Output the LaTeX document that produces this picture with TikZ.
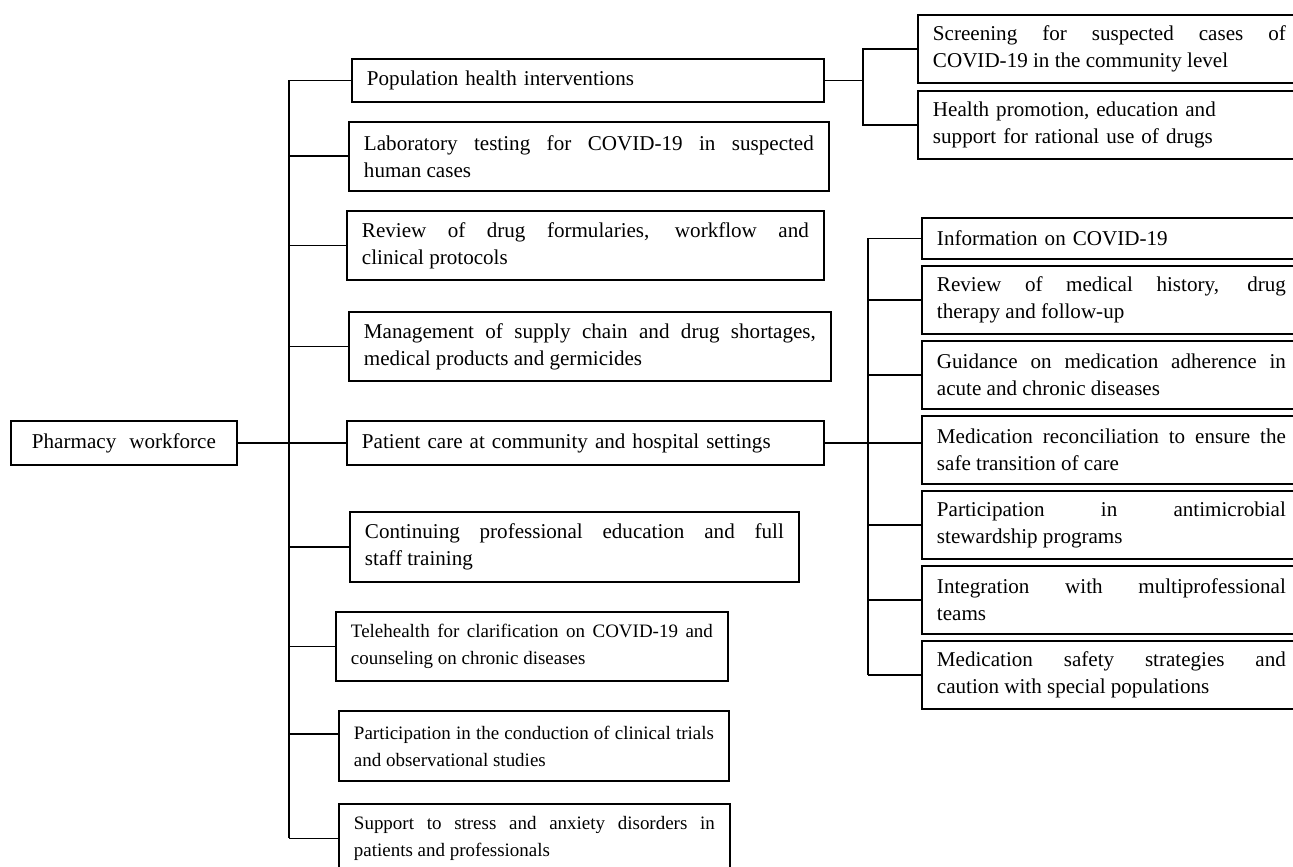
\documentclass[tikz,border=0pt]{standalone}
\usepackage{fontspec}
\setmainfont{Liberation Serif}

\begin{document}
\begin{tikzpicture}[x=0.02cm, y=-0.02cm,
    box/.style={draw, line width=1.1pt, anchor=north west, inner xsep=0.3cm, inner ysep=0pt,
        font=\fontsize{12}{15.3}\selectfont},
    jbox/.style={box, align=justify},
    tight/.style={font=\fontsize{10.8}{15.3}\selectfont},
    link/.style={line width=1.1pt}]
    % --- 1. 畫布大小 ---
    \useasboundingbox (0,0) rectangle (1293,866);
    \clip (0,0) rectangle (1293,866);

    % --- 2. 根節點 ---
    \node[box, minimum width=4.52cm, minimum height=0.88cm] (root) at (10,420)
        {Pharmacy\hspace{0.26cm}workforce};

    % --- 3. 中間一列 ---
    \node[box, align=left, text width=8.84cm, minimum height=0.86cm] (pop) at (351,58)
        {Population health interventions};
    \node[jbox, text width=9.0cm, minimum height=1.38cm] (lab) at (348,121)
        {Laboratory testing for COVID-19 in suspected\linebreak human cases};
    \node[jbox, text width=8.94cm, minimum height=1.38cm] (rev) at (346,210)
        {Review of drug formularies, workflow and\linebreak clinical protocols};
    \node[jbox, text width=9.04cm, minimum height=1.38cm] (mgt) at (348,311)
        {Management of supply chain and drug shortages,\linebreak medical products and germicides};
    \node[box, align=left, text width=8.94cm, minimum height=0.88cm] (pat) at (346,420)
        {Patient care at community and hospital settings};
    \node[jbox, text width=8.38cm, minimum height=1.4cm] (cpe) at (349,511)
        {Continuing professional education and full\linebreak staff training};
    \node[jbox, tight, text width=7.24cm, minimum height=1.38cm] (tel) at (335,611)
        {Telehealth for clarification on COVID-19 and\linebreak counseling on chronic diseases};
    \node[jbox, tight, text width=7.2cm, minimum height=1.4cm] (tri) at (338,710)
        {Participation in the conduction of clinical trials\linebreak and observational studies};
    \node[jbox, tight, text width=7.22cm, minimum height=1.38cm] (sup) at (338,803)
        {Support to stress and anxiety disorders in\linebreak patients and professionals};

    % --- 4. 右上兩格 ---
    \node[jbox, text width=7.06cm, minimum height=1.36cm] (s1) at (917,14)
        {Screening for suspected cases of\linebreak COVID-19 in the community level};
    \node[box, align=left, text width=7.06cm, minimum height=1.36cm] (s2) at (917,90)
        {Health promotion, education and\\ support for rational use of drugs};

    % --- 5. 右下七格 ---
    \node[box, align=left, text width=6.98cm, minimum height=0.82cm] (p1) at (921,217)
        {Information on COVID-19};
    \node[jbox, text width=6.98cm, minimum height=1.36cm] (p2) at (921,265)
        {Review of medical history, drug\linebreak therapy and follow-up};
    \node[jbox, text width=6.98cm, minimum height=1.36cm] (p3) at (921,340)
        {Guidance on medication adherence in\linebreak acute and chronic diseases};
    \node[jbox, text width=6.98cm, minimum height=1.36cm] (p4) at (921,415)
        {Medication reconciliation to ensure the\linebreak safe transition of care};
    \node[jbox, text width=6.98cm, minimum height=1.36cm] (p5) at (921,490)
        {Participation in antimicrobial\linebreak stewardship programs};
    \node[jbox, text width=6.98cm, minimum height=1.36cm] (p6) at (921,565)
        {Integration with multiprofessional\linebreak teams};
    \node[jbox, text width=6.98cm, minimum height=1.36cm] (p7) at (921,640)
        {Medication safety strategies and\linebreak caution with special populations};

    % --- 6. 連線 ---
    \coordinate (trunk) at (289,0);
    \coordinate (popj) at (863,0);
    \coordinate (patj) at (868,0);
    \coordinate (trij) at ([yshift=0.24cm]tri.west);

    \draw[link] (root.east) -- (pat.west);
    \draw[link] (pop.west -| trunk) -- (sup.west -| trunk);
    \foreach \b in {pop,lab,rev,mgt,cpe,tel,sup}
        \draw[link] (\b.west -| trunk) -- (\b.west);
    \draw[link] (trij -| trunk) -- (trij);

    \draw[link] (pop.east) -- (pop.east -| popj);
    \draw[link] (s1.west) -- (s1.west -| popj) -- (s2.west -| popj) -- (s2.west);

    \draw[link] (pat.east) -- (pat.east -| p4.west);
    \draw[link] (p1.west -| patj) -- (p7.west -| patj);
    \foreach \p in {p1,p2,p3,p5,p6,p7}
        \draw[link] (\p.west) -- (\p.west -| patj);
\end{tikzpicture}
\end{document}
